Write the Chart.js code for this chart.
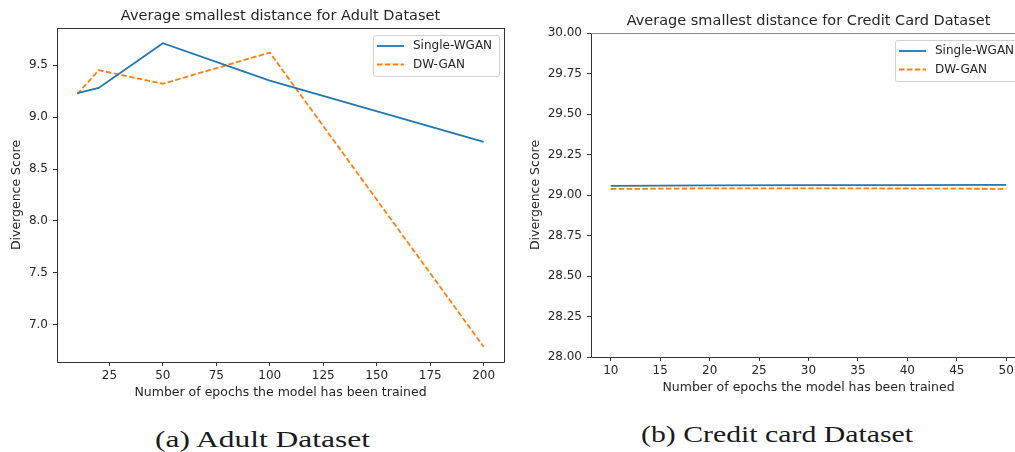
<!DOCTYPE html>
<html>
<head>
<meta charset="utf-8">
<script src="https://cdn.jsdelivr.net/npm/chart.js@4.4.1/dist/chart.umd.min.js"></script>
<style>
  html, body { margin: 0; padding: 0; background: #fff; overflow: hidden; width: 1015px; height: 452px; }
  #adultWrap { position: absolute; left: 0; top: 0; width: 510px; height: 410px; }
  #creditWrap { position: absolute; left: 510px; top: 0; width: 530px; height: 410px; }
  .caption {
    position: absolute; font-family: "Liberation Serif", "DejaVu Serif", serif;
    font-size: 24px; line-height: 24px; color: #1a1a1a; white-space: nowrap;
    transform-origin: left top;
  }
</style>
</head>
<body>
<div id="adultWrap"><canvas id="adultChart" width="510" height="410"></canvas></div>
<div id="creditWrap"><canvas id="creditChart" width="530" height="410"></canvas></div>
<div class="caption" id="capA" data-w="215" style="left:155px; top:426.5px;">(a) Adult Dataset</div>
<div class="caption" id="capB" data-w="272" style="left:641px; top:422px;">(b) Credit card Dataset</div>
<script>
// Adult dataset
const adultEpochs = [10, 20, 50, 100, 200];
const adultSingleWgan = [9.23, 9.28, 9.71, 9.35, 8.76];
const adultDwGan = [9.22, 9.45, 9.32, 9.62, 6.79];
const adultXTicks = [25, 50, 75, 100, 125, 150, 175, 200];
const adultYTicks = [7.0, 7.5, 8.0, 8.5, 9.0, 9.5];

// Credit card dataset
const creditEpochs = [10, 20, 30, 40, 50];
const creditSingleWgan = [29.056, 29.060, 29.061, 29.061, 29.063];
const creditDwGan = [29.037, 29.041, 29.041, 29.040, 29.038];
const creditXTicks = [10, 15, 20, 25, 30, 35, 40, 45, 50];
const creditYTicks = [28.0, 28.25, 28.5, 28.75, 29.0, 29.25, 29.5, 29.75, 30.0];

const seriesNames = ["Single-WGAN", "DW-GAN"];
const BLUE = "#1f77b4";
const ORANGE = "#ff7f0e";
const FONT = "'DejaVu Sans', sans-serif";
const TEXT = "#262626";

// stretch the sub-figure captions to their box width
document.querySelectorAll(".caption").forEach(el => {
  const w = el.getBoundingClientRect().width;
  el.style.transform = "scaleX(" + (Number(el.dataset.w) / w) + ")";
});

function toPoints(xs, ys) {
  return xs.map((x, i) => ({ x: x, y: ys[i] }));
}

// spines, axes title centred over the plot, and a legend box in the upper right
const frameAndLegend = {
  id: "frameAndLegend",
  afterDraw(chart, args, opts) {
    const { ctx, chartArea: a } = chart;
    ctx.save();
    ctx.lineWidth = 1;
    ctx.strokeStyle = "#333";
    ctx.beginPath();
    ctx.moveTo(a.left + 0.5, a.top);
    ctx.lineTo(a.left + 0.5, a.bottom + 0.5);
    ctx.lineTo(a.right + 0.5, a.bottom + 0.5);
    ctx.lineTo(a.right + 0.5, a.top);
    ctx.stroke();
    ctx.strokeStyle = opts.topColor || "#333";
    ctx.beginPath();
    ctx.moveTo(a.left, a.top + 0.5);
    ctx.lineTo(a.right + 1, a.top + 0.5);
    ctx.stroke();

    // title
    ctx.fillStyle = TEXT;
    ctx.font = "14.5px " + FONT;
    ctx.textAlign = "center";
    ctx.textBaseline = "middle";
    ctx.fillText(opts.title, (a.left + a.right) / 2, opts.titleY);

    // legend
    const w = 126, h = 41;
    const x0 = a.right - 5 - w, y0 = a.top + 7;
    ctx.fillStyle = "rgba(255,255,255,0.8)";
    ctx.strokeStyle = "#d0d0d0";
    ctx.beginPath();
    ctx.roundRect(x0 + 0.5, y0 + 0.5, w, h, 2);
    ctx.fill();
    ctx.stroke();
    ctx.font = "12px " + FONT;
    ctx.textAlign = "left";
    chart.data.datasets.forEach((ds, i) => {
      const yy = y0 + 11 + i * 18.5;
      ctx.strokeStyle = ds.borderColor;
      ctx.lineWidth = 1.8;
      ctx.setLineDash(ds.borderDash || []);
      ctx.beginPath();
      ctx.moveTo(x0 + 4, yy);
      ctx.lineTo(x0 + 31, yy);
      ctx.stroke();
      ctx.setLineDash([]);
      ctx.fillStyle = TEXT;
      ctx.fillText(ds.label, x0 + 40, yy);
    });
    ctx.restore();
  }
};

function makeChart(id, cfg) {
  const ctx = document.getElementById(id).getContext("2d");
  return new Chart(ctx, {
    type: "line",
    data: {
      datasets: [
        {
          label: seriesNames[0],
          data: toPoints(cfg.xs, cfg.single),
          borderColor: BLUE,
          borderWidth: 1.8,
          pointRadius: 0,
          tension: 0,
          fill: false
        },
        {
          label: seriesNames[1],
          data: toPoints(cfg.xs, cfg.dw),
          borderColor: ORANGE,
          borderWidth: 1.8,
          borderDash: [5.5, 2.4],
          pointRadius: 0,
          tension: 0,
          fill: false
        }
      ]
    },
    options: {
      responsive: false,
      animation: false,
      layout: { padding: { left: 0, right: cfg.padRight, top: cfg.padTop, bottom: 0 } },
      plugins: {
        legend: { display: false },
        tooltip: { enabled: false },
        title: { display: false },
        frameAndLegend: { topColor: cfg.topColor, title: cfg.title, titleY: cfg.titleY }
      },
      scales: {
        x: {
          type: "linear",
          min: cfg.xMin,
          max: cfg.xMax,
          afterBuildTicks: (s) => { s.ticks = cfg.xTicks.map(v => ({ value: v })); },
          afterFit: (s) => { s.height = cfg.xHeight; },
          border: { display: false },
          grid: { drawOnChartArea: false, drawTicks: true, tickLength: 4, color: "#333" },
          ticks: {
            color: TEXT, padding: 3, maxRotation: 0, autoSkip: false,
            font: { family: FONT, size: 12 },
            callback: (v) => String(v)
          },
          title: {
            display: true,
            text: "Number of epochs the model has been trained",
            color: TEXT,
            font: { family: FONT, size: 12.5 },
            padding: { top: 0, bottom: cfg.xTitlePad }
          }
        },
        y: {
          min: cfg.yMin,
          max: cfg.yMax,
          afterBuildTicks: (s) => { s.ticks = cfg.yTicks.map(v => ({ value: v })); },
          afterFit: (s) => { s.width = cfg.yWidth; },
          border: { display: false },
          grid: { drawOnChartArea: false, drawTicks: true, tickLength: 4, color: "#333" },
          ticks: {
            color: TEXT, padding: 5, autoSkip: false,
            font: { family: FONT, size: 12 },
            callback: (v) => v.toFixed(cfg.yDigits)
          },
          title: {
            display: true,
            text: "Divergence Score",
            color: TEXT,
            font: { family: FONT, size: 12.5 },
            padding: { top: cfg.yTitlePad, bottom: 0 }
          }
        }
      }
    },
    plugins: [frameAndLegend]
  });
}

makeChart("adultChart", {
  title: "Average smallest distance for Adult Dataset",
  xs: adultEpochs, single: adultSingleWgan, dw: adultDwGan,
  xTicks: adultXTicks, yTicks: adultYTicks,
  xMin: 0.5, xMax: 209.5, yMin: 6.644, yMax: 9.856, yDigits: 1,
  padRight: 6, padTop: 28, titleY: 16,
  xHeight: 48, yWidth: 57, xTitlePad: 9.5, yTitlePad: 9.2,
  topColor: "#333"
});

makeChart("creditChart", {
  title: "Average smallest distance for Credit Card Dataset",
  xs: creditEpochs, single: creditSingleWgan, dw: creditDwGan,
  xTicks: creditXTicks, yTicks: creditYTicks,
  xMin: 8, xMax: 52, yMin: 28, yMax: 30, yDigits: 2,
  padRight: 14, padTop: 33, titleY: 21.5,
  xHeight: 53, yWidth: 81, xTitlePad: 14.5, yTitlePad: 18.5,
  topColor: "#8a8a8a"
});
</script>
</body>
</html>
